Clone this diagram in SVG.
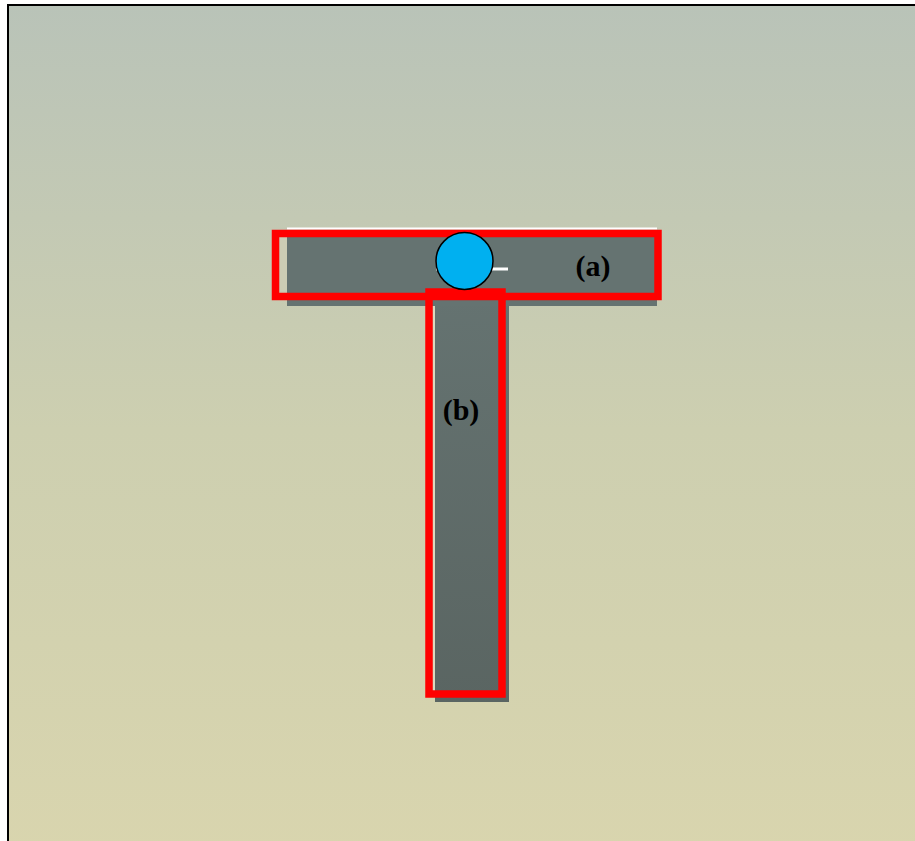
<svg xmlns="http://www.w3.org/2000/svg" width="915" height="841" viewBox="0 0 915 841">
<defs>
<linearGradient id="bg" x1="0" y1="0" x2="0" y2="1">
<stop offset="0" stop-color="#b9c3b8"/>
<stop offset="0.5" stop-color="#cdcfb0"/>
<stop offset="1" stop-color="#d9d5ae"/>
</linearGradient>
<linearGradient id="barv" x1="0" y1="0" x2="0" y2="1">
<stop offset="0" stop-color="#657371"/>
<stop offset="1" stop-color="#5a6562"/>
</linearGradient>
<style>
.red{fill:none;stroke:#ff0000;stroke-width:7.5}
.lbl{font-family:"Liberation Serif","Times New Roman",serif;font-weight:bold;font-size:30px;fill:#000;text-anchor:middle}
</style>
</defs>
<rect x="0" y="0" width="915" height="841" fill="#ffffff"/>
<rect x="8" y="5" width="920" height="850" fill="url(#bg)" stroke="#000" stroke-width="2"/>
<g id="bar-b">
<rect x="433" y="292" width="2" height="400" fill="#dcd9bf"/>
<rect x="435" y="290" width="74" height="412" fill="url(#barv)"/>
</g>
<g id="bar-a">
<rect x="287" y="227.5" width="370" height="2" fill="#ffffff"/>
<rect x="280" y="237" width="7" height="54" fill="#ccccb4"/>
<rect x="287" y="236" width="370" height="70" fill="#657371"/>
<rect x="436" y="267.5" width="72" height="3" fill="#ffffff"/>
</g>
<g id="frame-b">
<rect class="red" x="429" y="292" width="73" height="402"/>
<text class="lbl" x="461" y="420">(b)</text>
</g>
<g id="frame-a">
<rect class="red" x="275.5" y="233.5" width="382.5" height="63"/>
<text class="lbl" x="593" y="276">(a)</text>
</g>
<g id="joint">
<circle cx="464.5" cy="261" r="28.5" fill="#00b0f0" stroke="#000" stroke-width="1.5"/>
</g>
<g id="connectors"/>
</svg>
